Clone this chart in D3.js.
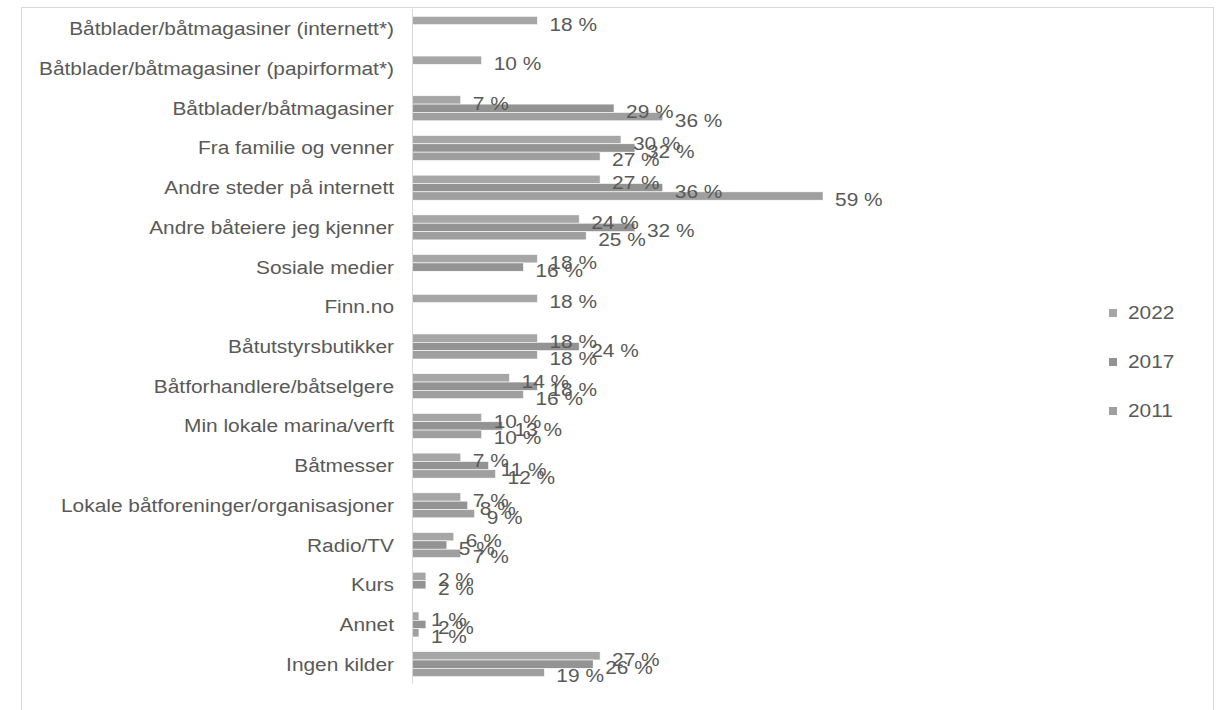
<!DOCTYPE html>
<html>
<head>
<meta charset="utf-8">
<script src="https://cdn.jsdelivr.net/npm/d3@7"></script>
<style>
  html, body { margin: 0; padding: 0; background: #fff; }
  svg { display: block; }
  text { font-family: "Liberation Sans", Arial, sans-serif; fill: #595959; }
</style>
</head>
<body>
<svg id="chart" width="1217" height="710"></svg>
<script>
// categories, top to bottom
const categories = [
  'Båtblader/båtmagasiner (internett*)',
  'Båtblader/båtmagasiner (papirformat*)',
  'Båtblader/båtmagasiner',
  'Fra familie og venner ',
  'Andre steder på internett',
  'Andre båteiere jeg kjenner',
  'Sosiale medier',
  'Finn.no',
  'Båtutstyrsbutikker ',
  'Båtforhandlere/båtselgere ',
  'Min lokale marina/verft',
  'Båtmesser ',
  'Lokale båtforeninger/organisasjoner',
  'Radio/TV ',
  'Kurs',
  'Annet',
  'Ingen kilder'
];

const years = ['2022', '2017', '2011'];

// percent values per year (null = no bar)
const values2022 = [18, 10, 7, 30, 27, 24, 18, 18, 18, 14, 10, 7, 7, 6, 2, 1, 27];
const values2017 = [null, null, 29, 32, 36, 32, 16, null, 24, 18, 13, 11, 8, 5, 2, 2, 26];
const values2011 = [null, null, 36, 27, 59, 25, null, null, 18, 16, 10, 12, 9, 7, null, 1, 19];

const colors = ['#a6a6a6', '#939393', '#9f9f9f'];

const svg = d3.select('#chart');
const stretch = 1.16; // the original text is a bit wide

// chart border
svg.append('rect')
  .attr('x', 21.5).attr('y', 7.5)
  .attr('width', 1192).attr('height', 760)
  .attr('fill', 'none').attr('stroke', '#d9d9d9');

const x = d3.scaleLinear().domain([0, 60]).range([412, 830]);
const y = d3.scaleBand().domain(categories).range([9, 684])
  .paddingInner(0.37).paddingOuter(0.185);
const yInner = d3.scaleBand().domain(years).range([0, y.bandwidth()]);

const rows = categories.map((c, i) => ({
  cat: c,
  vals: [values2022[i], values2017[i], values2011[i]]
}));

const bars = [];
rows.forEach(r => {
  r.vals.forEach((v, j) => {
    if (v !== null) bars.push({ cat: r.cat, year: years[j], value: v, color: colors[j] });
  });
});

const g = svg.append('g');

g.selectAll('rect.bar')
  .data(bars)
  .join('rect')
  .attr('class', 'bar')
  .attr('x', x(0))
  .attr('y', d => y(d.cat) + yInner(d.year))
  .attr('width', d => x(d.value) - x(0))
  .attr('height', yInner.bandwidth())
  .attr('fill', d => d.color)
  .attr('stroke', '#ffffff')
  .attr('stroke-width', 0.6);

// value labels
g.selectAll('text.val')
  .data(bars)
  .join('text')
  .attr('class', 'val')
  .attr('transform', d => `translate(${x(d.value) + 12},${y(d.cat) + yInner(d.year) + yInner.bandwidth() / 2 + 10}) scale(${stretch},1)`)
  .attr('font-size', 18)
  .text(d => d.value + ' %');

// axis line
svg.append('line')
  .attr('x1', 412.5).attr('x2', 412.5)
  .attr('y1', 9).attr('y2', 684)
  .attr('stroke', '#d9d9d9').attr('stroke-width', 1);

// category labels
svg.selectAll('text.cat')
  .data(categories)
  .join('text')
  .attr('class', 'cat')
  .attr('text-anchor', 'end')
  .attr('transform', d => `translate(394,${y(d) + y.bandwidth() / 2 + 6.5}) scale(${stretch},1)`)
  .attr('font-size', 18)
  .text(d => d.trimEnd());

// legend
const legend = svg.append('g').selectAll('g')
  .data(years)
  .join('g')
  .attr('transform', (d, i) => `translate(1109,${309 + i * 49})`);

legend.append('rect')
  .attr('width', 8).attr('height', 8)
  .attr('fill', (d, i) => colors[i]);

legend.append('text')
  .attr('transform', `translate(19,10) scale(${stretch},1)`)
  .attr('font-size', 18)
  .text(d => d);
</script>
</body>
</html>
